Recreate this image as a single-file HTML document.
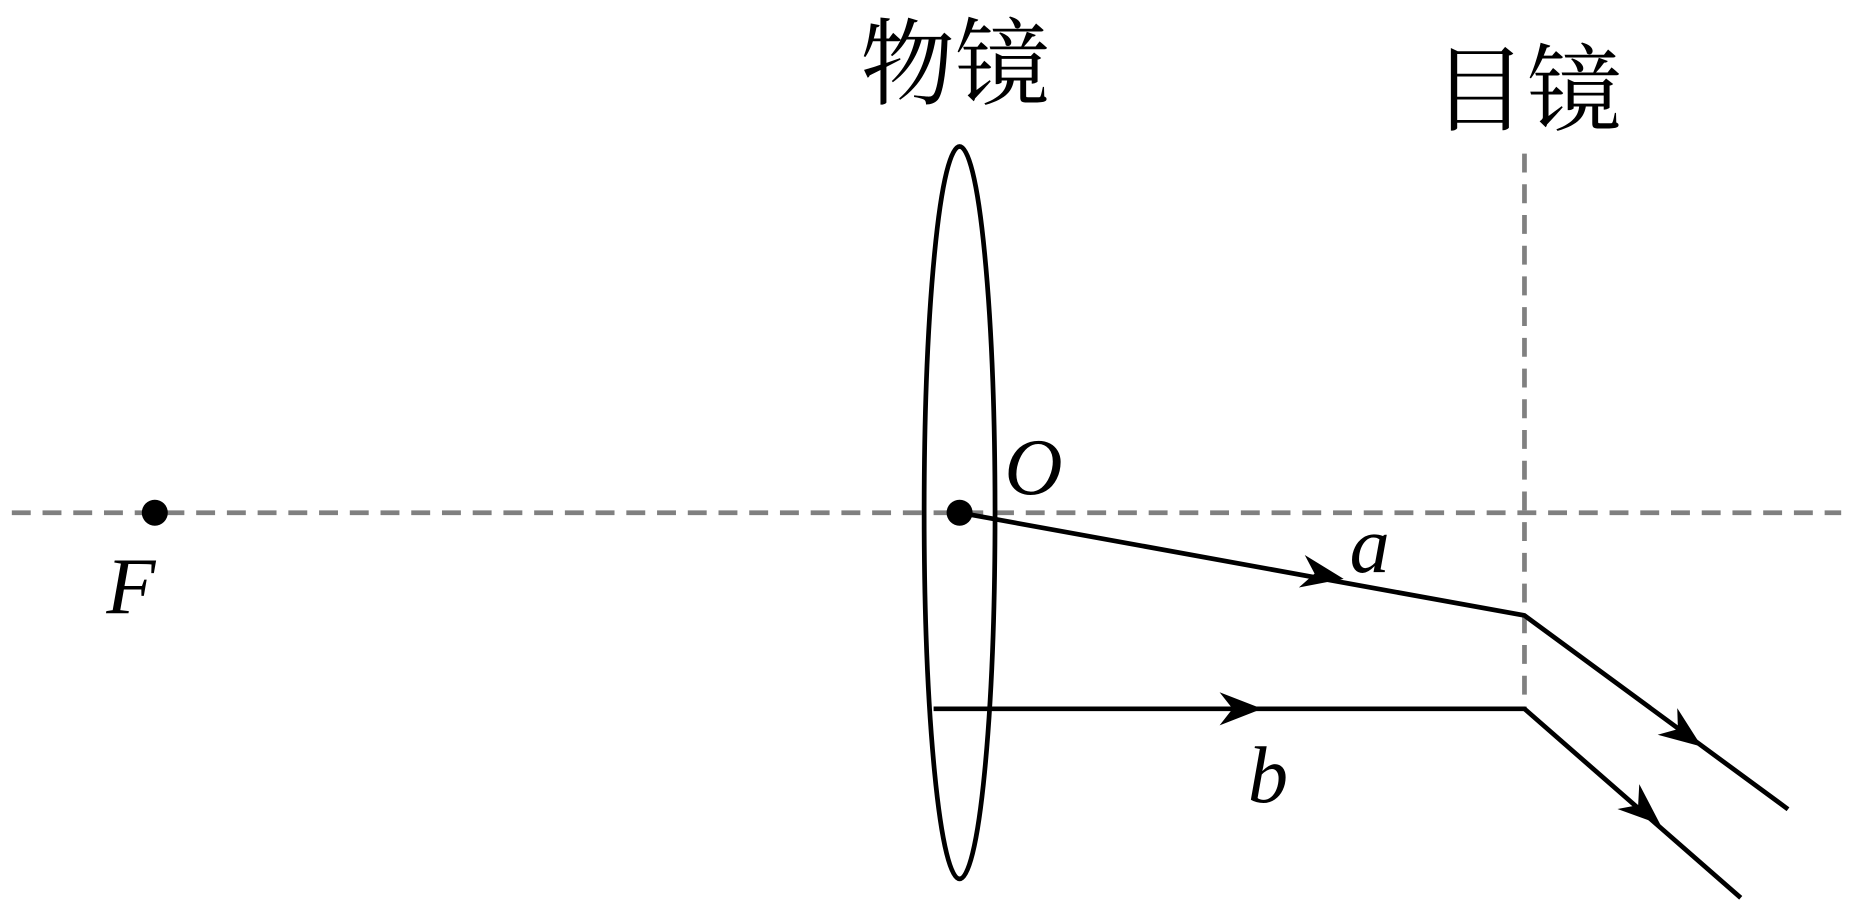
<!DOCTYPE html>
<html><head><meta charset="utf-8"><style>html,body{margin:0;padding:0;background:#fff;}svg{display:block}</style></head>
<body>
<svg width="1853" height="912" viewBox="0 0 1568 772" preserveAspectRatio="none" xmlns="http://www.w3.org/2000/svg">
<defs>
<path id="ah" d="M0,0 L-36,-14 L-25,0 L-36,14 Z" fill="#000"/>
</defs>
<line x1="10" y1="434" x2="1558" y2="434" stroke="#808080" stroke-width="4" stroke-dasharray="16,10"/>
<line x1="1290" y1="130" x2="1290" y2="600" stroke="#808080" stroke-width="4" stroke-dasharray="16,10"/>
<ellipse cx="812" cy="434" rx="30" ry="310" fill="none" stroke="#000" stroke-width="4"/>
<circle cx="131" cy="434" r="11" fill="#000"/>
<circle cx="812" cy="434" r="11" fill="#000"/>
<polyline points="812,434 1290,521 1513,685" fill="none" stroke="#000" stroke-width="4"/>
<polyline points="790,600 1290,600 1473,760" fill="none" stroke="#000" stroke-width="4"/>
<use href="#ah" transform="translate(1137,490) rotate(10.3)"/>
<use href="#ah" transform="translate(1440,632) rotate(36.3)"/>
<use href="#ah" transform="translate(1068,600)"/>
<use href="#ah" transform="translate(1405,698) rotate(41.2)"/>
<g font-family="Liberation Serif, serif" font-style="italic" font-size="68">
<text x="90" y="519">F</text>
<text x="850" y="418">O</text>
<text x="1142" y="484">a</text>
<text x="1056" y="679">b</text>
</g>
<g font-family="'Liberation Serif','Noto Serif CJK SC',serif" font-size="80">
<text x="728" y="82">物镜</text>
<text x="1212" y="104">目镜</text>
</g>
</svg>
</body></html>
